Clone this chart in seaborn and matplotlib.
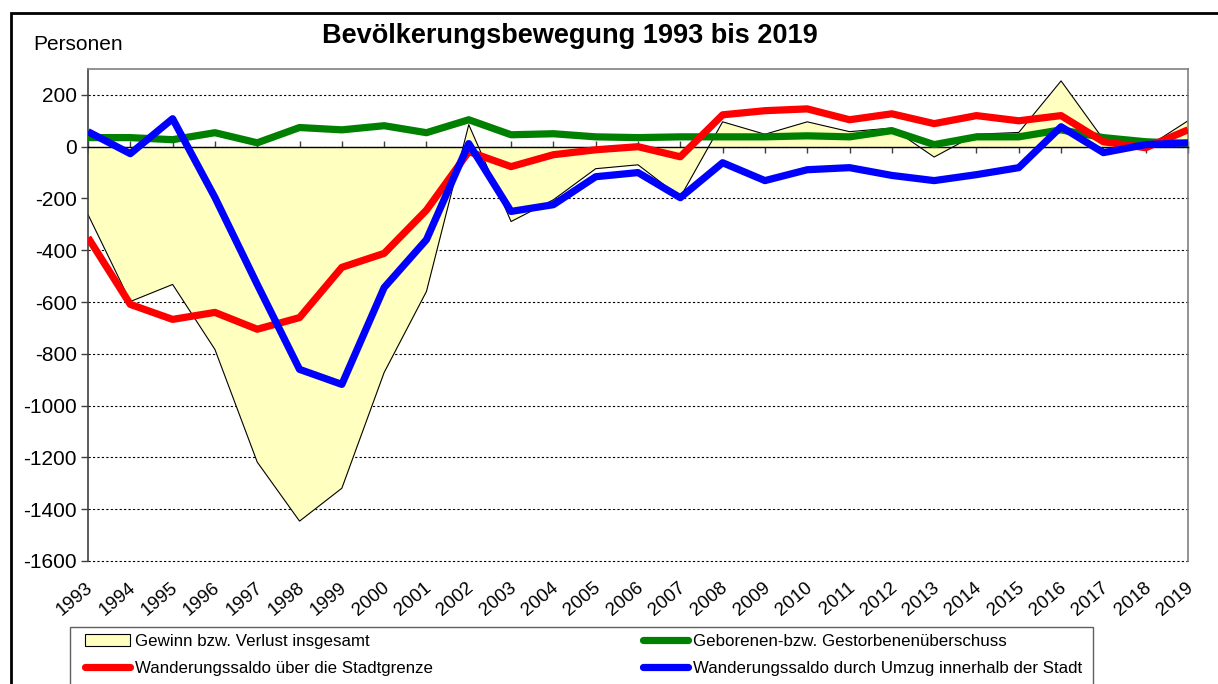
import matplotlib
matplotlib.use("Agg")
import matplotlib.pyplot as plt
from matplotlib.patches import Rectangle, Patch
from matplotlib.lines import Line2D
from matplotlib.transforms import ScaledTranslation
import seaborn as sns
import pandas as pd

years = list(range(1993, 2020))
total = [-262, -598, -532, -783, -1218, -1446, -1319, -872, -559, 85, -289, -205, -85, -70,
         -195, 96, 48, 96, 58, 72, -40, 48, 55, 254, 28, -5, 100]
natural = [35, 35, 27, 54, 15, 74, 65, 81, 54, 104, 46, 50, 38, 35, 38, 38, 38, 42, 38, 62,
           8, 38, 38, 65, 35, 19, 12]
external = [-351, -609, -667, -640, -705, -660, -466, -412, -245, -19, -77, -31, -12, 0,
            -39, 123, 139, 146, 104, 127, 89, 120, 100, 120, 19, -4, 65]
internal = [58, -27, 108, -196, -532, -860, -918, -544, -359, 12, -250, -224, -116, -100,
            -197, -62, -131, -89, -81, -111, -131, -108, -81, 77, -23, 8, 15]

labels = ["Gewinn bzw. Verlust insgesamt",
          "Geborenen-bzw. Gestorbenenüberschuss",
          "Wanderungssaldo über die Stadtgrenze",
          "Wanderungssaldo durch Umzug innerhalb der Stadt"]
title = "Bevölkerungsbewegung 1993 bis 2019"
ylabel = "Personen"
yticks = list(range(-1600, 201, 200))

sns.set_theme(style="white")
plt.rcParams["font.family"] = ["Liberation Sans", "DejaVu Sans"]
plt.rcParams["text.color"] = "black"
plt.rcParams["xtick.color"] = "black"
plt.rcParams["ytick.color"] = "black"
plt.rcParams["axes.labelcolor"] = "black"

W, H = 1218, 684
fig = plt.figure(figsize=(W / 100, H / 100), dpi=100)
fig.patch.set_facecolor("white")
ax = fig.add_axes([88 / W, 1 - 561 / H, (1188 - 88) / W, (561 - 69) / H])

df = pd.DataFrame({"year": years, "total": total, "natural": natural,
                   "external": external, "internal": internal})

ax.fill_between(df["year"], df["total"], 0, color="#FFFFC0", lw=0, zorder=1)
sns.lineplot(data=df, x="year", y="total", ax=ax, color="black", lw=0.8, zorder=2)
for col, c in [("natural", "#008000"), ("external", "#FF0000"), ("internal", "#0000FF")]:
    sns.lineplot(data=df, x="year", y=col, ax=ax, color=c, lw=5.2, zorder=3,
                 solid_joinstyle="round", solid_capstyle="butt")

ax.set_xlim(1993, 2019)
ax.set_ylim(-1600, 300)
ax.set_xlabel("")
ax.set_ylabel("")
ax.set_yticks(yticks)
ax.set_yticklabels([str(v) for v in yticks], fontsize=15, color="black")
ax.yaxis.grid(True, linestyle=(0, (2, 2)), color="black", lw=0.8)
for gl in ax.get_ygridlines():
    gl.set_clip_on(False)
ax.xaxis.grid(False)
ax.tick_params(axis="y", direction="out", length=5, width=1, color="#404040", pad=3, left=True)

ax.spines["bottom"].set_position(("data", 0))
ax.spines["bottom"].set_color("black")
ax.spines["bottom"].set_linewidth(1)
ax.spines["bottom"].set_zorder(2.5)
ax.set_xticks(years)
ax.tick_params(axis="x", direction="inout", length=9, width=1, color="#404040",
               labelbottom=False, bottom=True)
ax.spines["left"].set_color("#404040")
ax.spines["top"].set_color("#808080")
ax.spines["right"].set_color("#808080")
for s in ["left", "top", "right"]:
    ax.spines[s].set_linewidth(1.2)

sec = ax.secondary_xaxis(0)
sec.set_xticks(years)
sec.set_xticklabels([str(y) for y in years], fontsize=13.5, color="black")
sec.tick_params(length=0, pad=18)
sec.spines["bottom"].set_visible(False)
off = ScaledTranslation(3 / 100, 0, fig.dpi_scale_trans)
for lbl in sec.get_xticklabels():
    lbl.set_rotation(40)
    lbl.set_ha("right")
    lbl.set_va("center")
    lbl.set_rotation_mode("anchor")
    lbl.set_transform(lbl.get_transform() + off)

fig.text(570 / W, 1 - 43 / H, title, ha="center", va="baseline", fontsize=19.5,
         fontweight="bold", color="black")
fig.text(33 / W, 1 - 50 / H, ylabel, ha="left", va="baseline", fontsize=15, color="black")

# outer chart frame
fig.patches.append(Rectangle((11 / W, -0.1), 1.2, 1 - 13 / H + 0.1, transform=fig.transFigure,
                             fill=False, lw=2, edgecolor="black"))
# legend frame
fig.patches.append(Rectangle((70 / W, -0.1), (1093 - 70) / W, 1 - 627 / H + 0.1,
                             transform=fig.transFigure, fill=False, lw=1, edgecolor="#606060"))

handles = [Patch(facecolor="#FFFFC0", edgecolor="black", lw=0.8),
           Line2D([], [], color="#FF0000", lw=5.2, solid_capstyle="round"),
           Line2D([], [], color="#008000", lw=5.2, solid_capstyle="round"),
           Line2D([], [], color="#0000FF", lw=5.2, solid_capstyle="round")]
leg_labels = [labels[0], labels[2], labels[1], labels[3]]
fig.legend(handles, leg_labels, ncol=2, loc="upper left",
           bbox_to_anchor=(85 / W, 1 - 634 / H), frameon=False, fontsize=12.2,
           borderpad=0, borderaxespad=0, handlelength=2.65, handletextpad=0.3,
           columnspacing=12.4, labelspacing=0.7)

fig.savefig("out.png", dpi=100, facecolor="white")
